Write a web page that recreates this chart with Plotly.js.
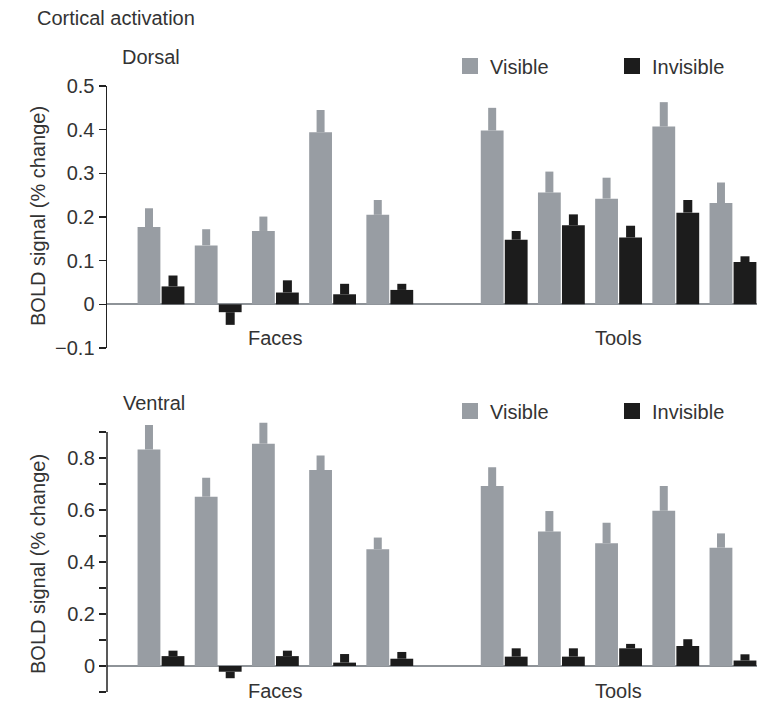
<!DOCTYPE html>
<html>
<head>
<meta charset="utf-8">
<script src="https://cdn.plot.ly/plotly-3.0.1.min.js"></script>
<style>html,body{margin:0;padding:0;background:#fff;}#chart{width:757px;height:702px;}</style>
</head>
<body>
<div id="chart"></div>
<script>
// ---- data ----
var groups = ['Faces', 'Tools'];
var itemsPerGroup = 5;
var seriesNames = ['Visible', 'Invisible'];

// Dorsal (top panel)
var dorsalFacesVisible      = [0.177, 0.135, 0.168, 0.394, 0.205];
var dorsalFacesVisibleErr   = [0.043, 0.037, 0.033, 0.051, 0.034];
var dorsalFacesInvisible    = [0.041, -0.018, 0.027, 0.023, 0.033];
var dorsalFacesInvisibleErr = [0.025, 0.029, 0.028, 0.024, 0.014];
var dorsalToolsVisible      = [0.398, 0.256, 0.242, 0.407, 0.232];
var dorsalToolsVisibleErr   = [0.052, 0.048, 0.048, 0.056, 0.047];
var dorsalToolsInvisible    = [0.148, 0.181, 0.153, 0.210, 0.097];
var dorsalToolsInvisibleErr = [0.020, 0.025, 0.027, 0.029, 0.013];

// Ventral (bottom panel)
var ventralFacesVisible      = [0.833, 0.651, 0.855, 0.754, 0.449];
var ventralFacesVisibleErr   = [0.094, 0.073, 0.081, 0.056, 0.045];
var ventralFacesInvisible    = [0.038, -0.022, 0.038, 0.013, 0.028];
var ventralFacesInvisibleErr = [0.021, 0.025, 0.021, 0.033, 0.026];
var ventralToolsVisible      = [0.692, 0.517, 0.472, 0.597, 0.455];
var ventralToolsVisibleErr   = [0.072, 0.079, 0.079, 0.095, 0.055];
var ventralToolsInvisible    = [0.036, 0.036, 0.068, 0.077, 0.021];
var ventralToolsInvisibleErr = [0.032, 0.032, 0.017, 0.026, 0.024];

// tick labels
var dorsalTickVals  = [-0.1, 0, 0.1, 0.2, 0.3, 0.4, 0.5];
var dorsalTickText  = ['\u22120.1', '0', '0.1', '0.2', '0.3', '0.4', '0.5'];
var ventralTickVals = [-0.1, 0, 0.1, 0.2, 0.3, 0.4, 0.5, 0.6, 0.7, 0.8, 0.9];
var ventralTickText = ['', '0', '', '0.2', '', '0.4', '', '0.6', '', '0.8', ''];

// ---- styling ----
var W = 757, H = 702;
function px(x) { return x / W; }
function py(y) { return 1 - y / H; }
var FONT = 'Liberation Sans, Arial, Helvetica, sans-serif';
var TXT = '#333333';
var GRAY = '#989da3';
var BLACK = '#1c1c1c';
var AXIS = '#222222';
var colors = [GRAY, BLACK];
var stubWidth = [8, 9];

// positions of items: each group of 5, one empty slot between groups
var xpos = [];
groups.forEach(function (g, gi) {
  for (var i = 0; i < itemsPerGroup; i++) xpos.push(gi * (itemsPerGroup + 1) + i);
});
var groupCenters = groups.map(function (g, gi) {
  var s = 0;
  for (var i = 0; i < itemsPerGroup; i++) s += xpos[gi * itemsPerGroup + i];
  return s / itemsPerGroup;
});

function errUp(v, e) { return v.map(function (val, i) { return val >= 0 ? e[i] : 0; }); }
function errDown(v, e) { return v.map(function (val, i) { return val < 0 ? e[i] : 0; }); }

function makeTrace(name, idx, vals, errs, xa, ya) {
  return {
    type: 'bar', name: name, x: xpos, y: vals, xaxis: xa, yaxis: ya,
    showlegend: false,
    marker: { color: colors[idx], line: { width: 0 } },
    error_y: {
      type: 'data', symmetric: false,
      array: errUp(vals, errs), arrayminus: errDown(vals, errs),
      color: colors[idx], thickness: stubWidth[idx], width: 0, visible: true
    },
    hoverinfo: 'skip'
  };
}
// legend-only entries (square swatches)
function legendEntry(name, idx, xa, ya, legendId) {
  return {
    type: 'scatter', mode: 'markers', name: name, x: [null], y: [null], xaxis: xa, yaxis: ya,
    legend: legendId, showlegend: true,
    marker: { symbol: 'square', size: 16, color: colors[idx], line: { width: 0 } },
    hoverinfo: 'skip'
  };
}

var dV = dorsalFacesVisible.concat(dorsalToolsVisible);
var dVe = dorsalFacesVisibleErr.concat(dorsalToolsVisibleErr);
var dI = dorsalFacesInvisible.concat(dorsalToolsInvisible);
var dIe = dorsalFacesInvisibleErr.concat(dorsalToolsInvisibleErr);
var vV = ventralFacesVisible.concat(ventralToolsVisible);
var vVe = ventralFacesVisibleErr.concat(ventralToolsVisibleErr);
var vI = ventralFacesInvisible.concat(ventralToolsInvisible);
var vIe = ventralFacesInvisibleErr.concat(ventralToolsInvisibleErr);

var data = [
  makeTrace(seriesNames[0], 0, dV, dVe, 'x', 'y'),
  makeTrace(seriesNames[1], 1, dI, dIe, 'x', 'y'),
  makeTrace(seriesNames[0], 0, vV, vVe, 'x2', 'y2'),
  makeTrace(seriesNames[1], 1, vI, vIe, 'x2', 'y2'),
  legendEntry(seriesNames[0], 0, 'x', 'y', 'legend'),
  legendEntry(seriesNames[1], 1, 'x', 'y', 'legend'),
  legendEntry(seriesNames[0], 0, 'x2', 'y2', 'legend2'),
  legendEntry(seriesNames[1], 1, 'x2', 'y2', 'legend2')
];

var xRange = [-0.944, 10.42];
function xAxis(anchor) {
  return { domain: [px(107), 1], range: xRange, anchor: anchor, showline: false,
    showticklabels: false, ticks: '', showgrid: false, zeroline: false, fixedrange: true };
}
function yAxis(domain, range, tv, tt, line) {
  return { domain: domain, range: range, tickmode: 'array', tickvals: tv, ticktext: tt,
    ticks: 'outside', ticklen: 7, tickwidth: 1.5, tickcolor: AXIS,
    showline: line, linecolor: AXIS, linewidth: 1.5, showgrid: false,
    zeroline: true, zerolinecolor: '#8e9398', zerolinewidth: 2,
    tickfont: { family: FONT, size: 20, color: TXT }, fixedrange: true };
}

function legendCfg(yc) {
  return { orientation: 'h', x: px(450), xanchor: 'left', y: py(yc), yanchor: 'middle',
    font: { family: FONT, size: 20, color: TXT }, bgcolor: 'rgba(0,0,0,0)',
    entrywidth: 117, entrywidthmode: 'pixels', traceorder: 'normal', itemsizing: 'trace' };
}

var yTitle = 'BOLD signal (% change)';
var annotations = [
  { text: 'Cortical activation', xref: 'paper', yref: 'paper', x: px(35), y: py(18),
    xanchor: 'left', yanchor: 'middle', showarrow: false, font: { family: FONT, size: 20, color: TXT } },
  { text: 'Dorsal', xref: 'paper', yref: 'paper', x: px(120), y: py(57),
    xanchor: 'left', yanchor: 'middle', showarrow: false, font: { family: FONT, size: 20, color: TXT } },
  { text: 'Ventral', xref: 'paper', yref: 'paper', x: px(121), y: py(403),
    xanchor: 'left', yanchor: 'middle', showarrow: false, font: { family: FONT, size: 20, color: TXT } },
  { text: yTitle, xref: 'paper', yref: 'paper', x: px(38), y: py(216), textangle: -90,
    xanchor: 'center', yanchor: 'middle', showarrow: false, font: { family: FONT, size: 20, color: TXT } },
  { text: yTitle, xref: 'paper', yref: 'paper', x: px(38), y: py(564), textangle: -90,
    xanchor: 'center', yanchor: 'middle', showarrow: false, font: { family: FONT, size: 20, color: TXT } }
];
groups.forEach(function (g, gi) {
  annotations.push({ text: g, xref: 'x', yref: 'paper', x: groupCenters[gi], y: py(338),
    xanchor: 'center', yanchor: 'middle', showarrow: false, font: { family: FONT, size: 20, color: TXT } });
  annotations.push({ text: g, xref: 'x2', yref: 'paper', x: groupCenters[gi], y: py(691),
    xanchor: 'center', yanchor: 'middle', showarrow: false, font: { family: FONT, size: 20, color: TXT } });
});

// Ventral axis: the visible axis line spans -0.1..0.9 while the data area extends a little
// higher so the tallest error stubs are not clipped.
var ventralAxisTop = 0.9, ventralRangeTop = 0.96;
var ventralPxPerUnit = 260; // 1.0 unit = 260 px
var ventralDomainTopPx = 432 - (ventralRangeTop - ventralAxisTop) * ventralPxPerUnit;

var shapes = [
  { type: 'line', xref: 'paper', yref: 'y2', x0: px(107), x1: px(107), y0: -0.1, y1: ventralAxisTop,
    line: { color: AXIS, width: 1.5 }, layer: 'above' }
];

var layout = {
  width: W, height: H, margin: { l: 0, r: 0, t: 0, b: 0, pad: 0, autoexpand: false },
  paper_bgcolor: '#ffffff', plot_bgcolor: '#ffffff',
  font: { family: FONT, size: 20, color: TXT },
  barmode: 'group', bargap: 0.16, bargroupgap: 0.05,
  showlegend: true,
  legend: legendCfg(66),
  legend2: legendCfg(411),
  xaxis: xAxis('y'),
  xaxis2: xAxis('y2'),
  yaxis: yAxis([py(348), py(86)], [-0.1, 0.5], dorsalTickVals, dorsalTickText, true),
  yaxis2: yAxis([py(692), py(ventralDomainTopPx)], [-0.1, ventralRangeTop], ventralTickVals, ventralTickText, false),
  annotations: annotations,
  shapes: shapes
};

Plotly.newPlot('chart', data, layout, { staticPlot: true, displayModeBar: false });
</script>
</body>
</html>
